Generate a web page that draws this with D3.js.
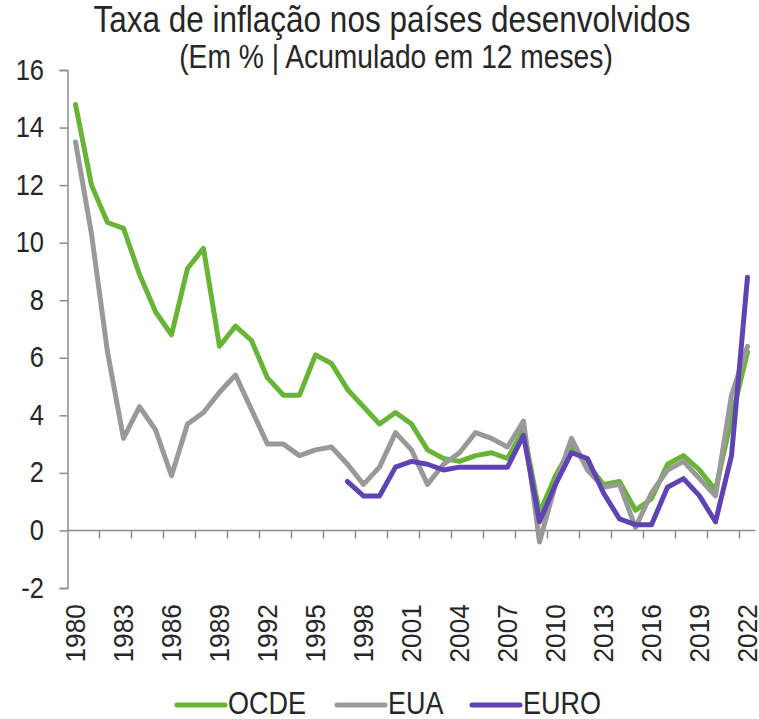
<!DOCTYPE html>
<html><head><meta charset="utf-8">
<script src="https://cdn.jsdelivr.net/npm/d3@7"></script>
<style>body{margin:0;background:#fff}svg{display:block}text{font-family:"Liberation Sans",Arial,sans-serif;fill:#262626}</style>
</head><body>
<script>
const years = d3.range(1980, 2023);
const ocde = [14.8,12.0,10.7,10.5,8.9,7.6,6.8,9.1,9.8,6.4,7.1,6.6,5.3,4.7,4.7,6.1,5.8,4.9,4.3,3.7,4.1,3.7,2.8,2.5,2.4,2.6,2.7,2.5,3.5,0.6,1.9,2.9,2.3,1.6,1.7,0.7,1.1,2.3,2.6,2.1,1.4,3.9,6.2];
const eua  = [13.5,10.3,6.2,3.2,4.3,3.5,1.9,3.7,4.1,4.8,5.4,4.2,3.0,3.0,2.6,2.8,2.9,2.3,1.6,2.2,3.4,2.8,1.6,2.3,2.7,3.4,3.2,2.9,3.8,-0.4,1.6,3.2,2.1,1.5,1.6,0.1,1.3,2.1,2.4,1.8,1.2,4.7,6.4];
const euro = [null,null,null,null,null,null,null,null,null,null,null,null,null,null,null,null,null,1.7,1.2,1.2,2.2,2.4,2.3,2.1,2.2,2.2,2.2,2.2,3.3,0.3,1.6,2.7,2.5,1.3,0.4,0.2,0.2,1.5,1.8,1.2,0.3,2.6,8.8];
const yTicks = [-2,0,2,4,6,8,10,12,14,16];
const xLabelYears = d3.range(1980, 2023, 3);
const seriesNames = ["OCDE","EUA","EURO"];
const colors = ["#67b437","#999999","#6043b3"];
const title = "Taxa de inflação nos países desenvolvidos";
const subtitle = "(Em % | Acumulado em 12 meses)";

const W = 759, H = 719;
const SY = 1.17;
const svg = d3.select("body").append("svg").attr("width", W).attr("height", H);
const x = d3.scaleBand().domain(years).range([67.5, 755.5]);
const y = d3.scaleLinear().domain([-2, 16]).range([588, 70]);
const axisColor = "#8c8c8c";

function stretchedText(g, tx, ty, size, anchor, str) {
  return g.append("text").attr("transform", `translate(${tx},${ty}) scale(1,${SY})`)
    .attr("text-anchor", anchor).style("font-size", size + "px").text(str);
}

// title
stretchedText(svg, 392, 32, 31.5, "middle", title);
stretchedText(svg, 396, 68, 28.2, "middle", subtitle);

// y axis
const ya = svg.append("g").attr("transform","translate(67.5,0)")
  .call(d3.axisLeft(y).tickValues(yTicks).tickSize(8).tickFormat(d => String(d)));
ya.select(".domain").attr("stroke", axisColor).attr("stroke-width",1.5);
ya.selectAll(".tick line").attr("stroke", axisColor).attr("stroke-width",1.5);
ya.selectAll(".tick text").remove();
const yl = svg.append("g");
yTicks.forEach(t => stretchedText(yl, 44, y(t) + 9.5, 25.5, "end", String(t)));

// x axis at y=0
const tickBounds = d3.range(2, years.length, 2).map(i => x(years[i]));
const xg = svg.append("g");
xg.append("line").attr("x1", 67.5).attr("x2", 755.5).attr("y1", y(0)).attr("y2", y(0)).attr("stroke", axisColor).attr("stroke-width",1.5);
xg.selectAll("line.t").data(tickBounds).join("line").attr("class","t")
  .attr("x1", d=>d).attr("x2", d=>d).attr("y1", y(0)).attr("y2", y(0)+8).attr("stroke", axisColor).attr("stroke-width",1.5);
svg.append("g").selectAll("text").data(xLabelYears).join("text")
  .attr("transform", d => `translate(${x(d)+x.bandwidth()/2+9.5},604) rotate(-90) scale(${SY*0.9},1.1)`)
  .attr("text-anchor","end").style("font-size","25px").text(d=>d);

// lines
const allSeries = [ocde, eua, euro];
const line = d3.line().defined(d => d.v !== null).x(d => x(d.yr) + x.bandwidth()/2).y(d => y(d.v)).curve(d3.curveLinear);
allSeries.forEach((s, i) => {
  svg.append("path").datum(years.map((yr, j) => ({yr, v: s[j]})))
    .attr("d", line).attr("fill","none").attr("stroke", colors[i]).attr("stroke-width",5)
    .attr("stroke-linejoin","round").attr("stroke-linecap","round");
});

// legend
const legX = [177, 337, 472];
const lg = svg.append("g");
seriesNames.forEach((n, i) => {
  lg.append("line").attr("x1", legX[i]).attr("x2", legX[i]+48).attr("y1", 705).attr("y2", 705)
    .attr("stroke", colors[i]).attr("stroke-width",5).attr("stroke-linecap","round");
  stretchedText(lg, legX[i]+51, 714, 27, "start", n);
});
</script>
</body></html>
